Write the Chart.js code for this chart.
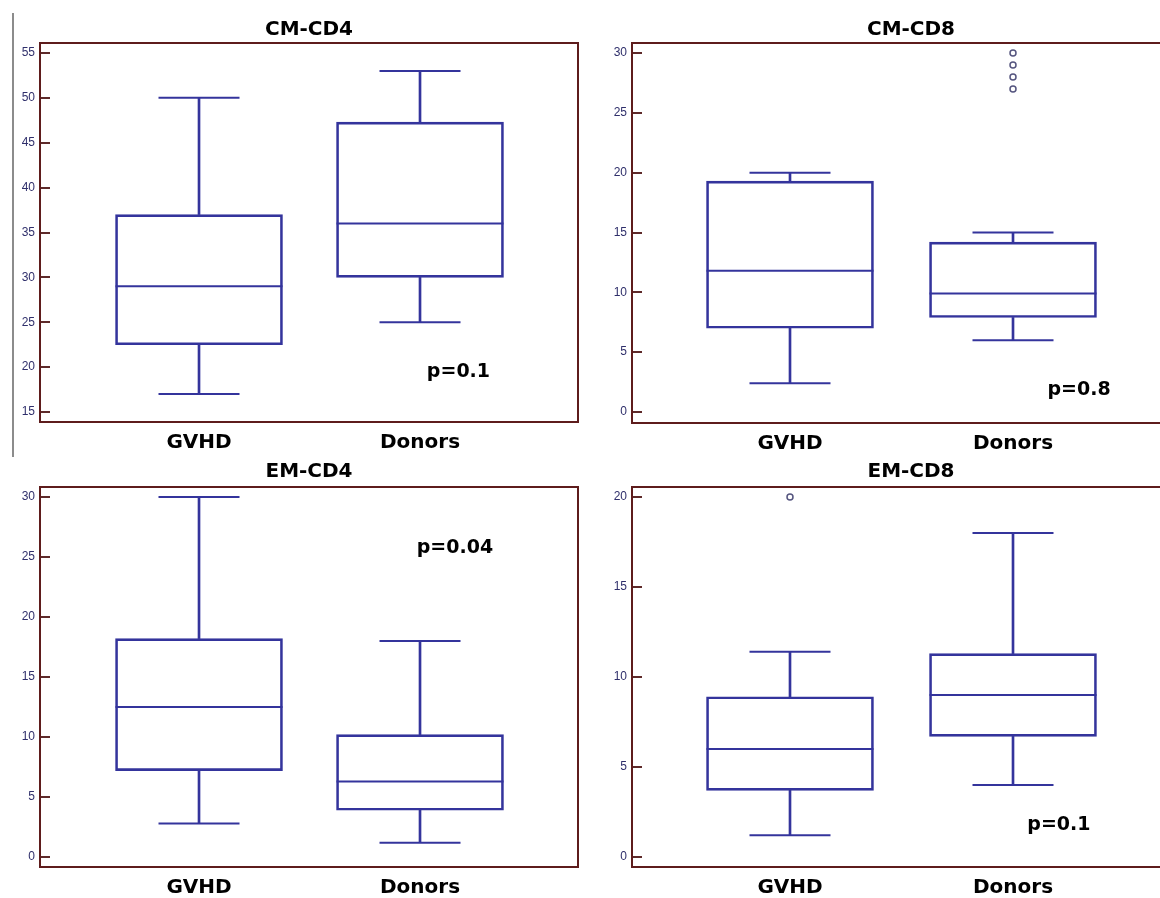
<!DOCTYPE html>
<html>
<head>
<meta charset="utf-8">
<script src="https://cdn.jsdelivr.net/npm/chart.js@4.4.1/dist/chart.umd.min.js"></script>
<style>
  html, body { margin: 0; padding: 0; background: #fff; }
  #page { position: relative; width: 1160px; height: 898px; overflow: hidden; background: #fff; }
  .panel { position: absolute; }
  #edge { position: absolute; left: 12px; top: 13px; width: 2px; height: 444px; background: #8c8c8c; }
</style>
</head>
<body>
<div id="page">
  <div id="edge"></div>
  <div class="panel" style="left:0;top:0"><canvas id="cmCd4" width="580" height="455"></canvas></div>
  <div class="panel" style="left:580px;top:0"><canvas id="cmCd8" width="610" height="455"></canvas></div>
  <div class="panel" style="left:0;top:455px"><canvas id="emCd4" width="580" height="443"></canvas></div>
  <div class="panel" style="left:580px;top:455px"><canvas id="emCd8" width="610" height="443"></canvas></div>
</div>
<script>
const groups = ['GVHD', 'Donors'];

// CM-CD4
const cmCd4Low = [17, 25];
const cmCd4Q1 = [22.5, 30];
const cmCd4Median = [29, 36];
const cmCd4Q3 = [37, 47.3];
const cmCd4High = [50, 53];
const cmCd4Outliers = [[], []];

// CM-CD8
const cmCd8Low = [2.4, 6];
const cmCd8Q1 = [7, 7.9];
const cmCd8Median = [11.8, 9.9];
const cmCd8Q3 = [19.3, 14.2];
const cmCd8High = [20, 15];
const cmCd8Outliers = [[], [30, 29, 28, 27]];

// EM-CD4
const emCd4Low = [2.8, 1.2];
const emCd4Q1 = [7.2, 3.9];
const emCd4Median = [12.5, 6.3];
const emCd4Q3 = [18.2, 10.2];
const emCd4High = [30, 18];
const emCd4Outliers = [[], []];

// EM-CD8
const emCd8Low = [1.2, 4];
const emCd8Q1 = [3.7, 6.7];
const emCd8Median = [6, 9];
const emCd8Q3 = [8.9, 11.3];
const emCd8High = [11.4, 18];
const emCd8Outliers = [[20], []];

const BOX = '#34349c';
const FRAME = '#5e1c1c';
const TICK = '#5e2a2a';
const LABEL = '#2f2f6b';

// 外框 + 内向刻度 + p 值
const framePlugin = {
    id: 'frame',
    afterDraw(chart, args, opts) {
        const ctx = chart.ctx;
        const a = chart.chartArea;
        const x = chart.scales.x;
        const y = chart.scales.y;
        ctx.save();
        ctx.lineWidth = 2;
        ctx.strokeStyle = TICK;
        y.ticks.forEach(function (t) {
            const py = Math.round(y.getPixelForValue(t.value));
            ctx.beginPath();
            ctx.moveTo(a.left, py);
            ctx.lineTo(a.left + 10, py);
            ctx.stroke();
        });
        ctx.strokeStyle = FRAME;
        ctx.strokeRect(a.left, a.top, a.right - a.left, a.bottom - a.top);
        if (opts.text) {
            ctx.fillStyle = '#000';
            ctx.font = 'bold 19px "DejaVu Sans"';
            ctx.textAlign = 'center';
            ctx.textBaseline = 'middle';
            ctx.fillText(opts.text, x.getPixelForValue(opts.at[0]), y.getPixelForValue(opts.at[1]));
        }
        ctx.restore();
    }
};

function drawPanel(p) {
    const pos = function (arr) {
        return groups.map(function (g, i) { return { x: i + 1, y: arr[i] }; });
    };
    const range = function (lo, hi) {
        return groups.map(function (g, i) { return { x: i + 1, y: [lo[i], hi[i]] }; });
    };
    const outlierPts = [];
    p.outliers.forEach(function (list, i) {
        list.forEach(function (v) { outlierPts.push({ x: i + 1, y: v }); });
    });

    new Chart(document.getElementById(p.id), {
        type: 'bar',
        data: {
            datasets: [
                {
                    data: range(p.q1, p.q3),
                    backgroundColor: 'rgba(0,0,0,0)',
                    borderColor: BOX,
                    borderWidth: 2,
                    borderSkipped: false,
                    barThickness: 167,
                    grouped: false
                },
                {
                    data: range(p.low, p.q1),
                    backgroundColor: BOX,
                    borderWidth: 0,
                    barThickness: 2,
                    grouped: false
                },
                {
                    data: range(p.q3, p.high),
                    backgroundColor: BOX,
                    borderWidth: 0,
                    barThickness: 2,
                    grouped: false
                },
                {
                    type: 'line',
                    data: pos(p.median),
                    showLine: false,
                    pointStyle: 'line',
                    pointRadius: 83.5,
                    pointBorderWidth: 2,
                    pointBorderColor: BOX
                },
                {
                    type: 'line',
                    data: pos(p.low).concat(pos(p.high)),
                    showLine: false,
                    pointStyle: 'line',
                    pointRadius: 40.5,
                    pointBorderWidth: 2,
                    pointBorderColor: BOX
                },
                {
                    type: 'line',
                    data: outlierPts,
                    showLine: false,
                    pointStyle: 'circle',
                    pointRadius: 3,
                    pointBorderWidth: 1.5,
                    pointBorderColor: '#55557f',
                    pointBackgroundColor: '#fff'
                }
            ]
        },
        options: {
            responsive: false,
            animation: false,
            events: [],
            layout: {
                autoPadding: false,
                padding: { right: p.padRight, left: 0, top: 0, bottom: 0 }
            },
            scales: {
                x: {
                    type: 'linear',
                    min: p.xRange[0],
                    max: p.xRange[1],
                    offset: false,
                    grid: { display: false, drawTicks: false, offset: false },
                    border: { display: false },
                    afterBuildTicks: function (axis) {
                        axis.ticks = groups.map(function (g, i) { return { value: i + 1 }; });
                    },
                    afterFit: function (axis) { axis.height = p.axisH; },
                    ticks: {
                        autoSkip: false,
                        maxRotation: 0,
                        padding: p.labelPad,
                        color: '#000',
                        font: { family: 'DejaVu Sans', weight: 'bold', size: 20 },
                        callback: function (v) { return groups[v - 1] || ''; }
                    }
                },
                y: {
                    min: p.yRange[0],
                    max: p.yRange[1],
                    grid: { display: false, drawTicks: false },
                    border: { display: false },
                    afterFit: function (axis) { axis.width = p.axisW; },
                    ticks: {
                        stepSize: 5,
                        includeBounds: false,
                        padding: 5,
                        color: LABEL,
                        font: { family: 'Liberation Sans', size: 12 }
                    }
                }
            },
            plugins: {
                legend: { display: false },
                tooltip: { enabled: false },
                title: {
                    display: true,
                    text: p.title,
                    fullSize: false,
                    color: '#000',
                    font: { family: 'DejaVu Sans', weight: 'bold', size: 20 },
                    padding: p.titlePad
                },
                frame: { text: p.pText, at: p.pAt }
            }
        },
        plugins: [framePlugin]
    });
}

drawPanel({
    id: 'cmCd4', title: 'CM-CD4',
    low: cmCd4Low, q1: cmCd4Q1, median: cmCd4Median, q3: cmCd4Q3, high: cmCd4High, outliers: cmCd4Outliers,
    pText: 'p=0.1', pAt: [2.174, 19.4],
    xRange: [0.2805, 2.7149], yRange: [13.89, 56.11],
    axisW: 40, axisH: 33, padRight: 2, labelPad: 9, titlePad: { top: 17.5, bottom: 1.5 }
});
drawPanel({
    id: 'cmCd8', title: 'CM-CD8',
    low: cmCd8Low, q1: cmCd8Q1, median: cmCd8Median, q3: cmCd8Q3, high: cmCd8High, outliers: cmCd8Outliers,
    pText: 'p=0.8', pAt: [2.296, 1.84],
    xRange: [0.2915, 2.7937], yRange: [-0.92, 30.84],
    axisW: 52, axisH: 32, padRight: 0, labelPad: 9, titlePad: { top: 17.5, bottom: 1.5 }
});
drawPanel({
    id: 'emCd4', title: 'EM-CD4',
    low: emCd4Low, q1: emCd4Q1, median: emCd4Median, q3: emCd4Q3, high: emCd4High, outliers: emCd4Outliers,
    pText: 'p=0.04', pAt: [2.158, 25.75],
    xRange: [0.2805, 2.7149], yRange: [-0.83, 30.83],
    axisW: 40, axisH: 31, padRight: 2, labelPad: 8.5, titlePad: { top: 5, bottom: 3 }
});
drawPanel({
    id: 'emCd8', title: 'EM-CD8',
    low: emCd8Low, q1: emCd8Q1, median: emCd8Median, q3: emCd8Q3, high: emCd8High, outliers: emCd8Outliers,
    pText: 'p=0.1', pAt: [2.206, 1.78],
    xRange: [0.2915, 2.7937], yRange: [-0.56, 20.56],
    axisW: 52, axisH: 31, padRight: 0, labelPad: 8.5, titlePad: { top: 5, bottom: 3 }
});
</script>
</body>
</html>
